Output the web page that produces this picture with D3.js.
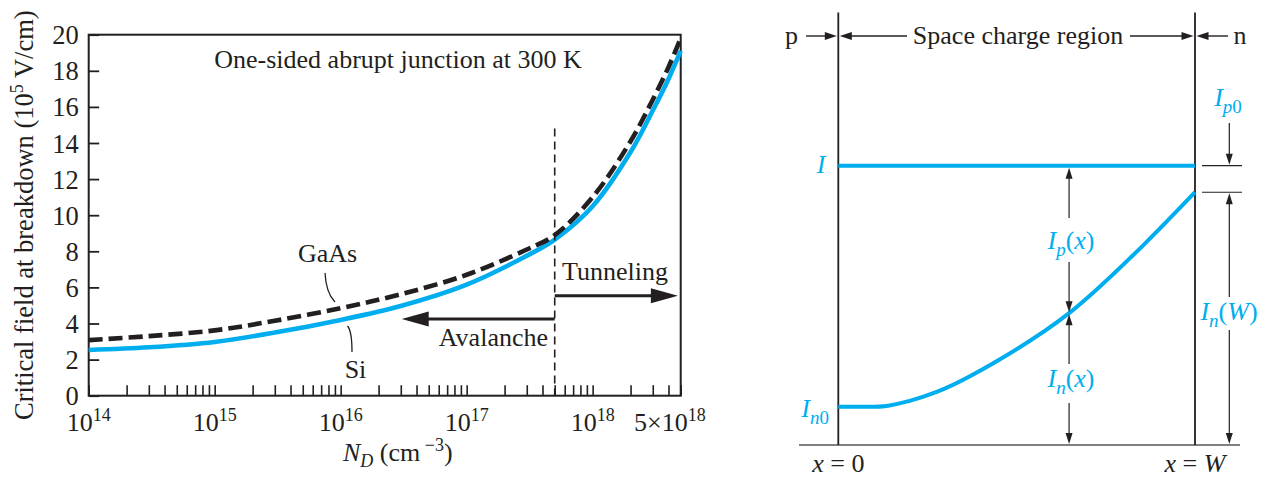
<!DOCTYPE html>
<html>
<head>
<meta charset="utf-8">
<script src="https://cdn.jsdelivr.net/npm/d3@7"></script>
<style>
  html, body { margin: 0; padding: 0; background: #fff; }
  svg { display: block; }
  text { font-family: "Liberation Serif", "Times New Roman", serif; fill: #231f20; }
</style>
</head>
<body>
<script>
// ---- Critical breakdown field vs. doping (one-sided abrupt junction, 300 K)
const dopingNd = [1e14, 3e14, 1e15, 3e15, 1e16, 3e16, 1e17, 3e17, 5e17, 1e18, 2e18, 3e18, 4e18, 5e18];
const fieldSi   = [2.53, 2.68, 2.98, 3.5, 4.2, 4.97, 6.15, 7.75, 8.65, 10.5, 13.5, 15.8, 17.55, 19.1];
const fieldGaAs = [3.08, 3.3, 3.62, 4.15, 4.85, 5.62, 6.7, 8.1, 8.9, 11.0, 14.1, 16.4, 18.2, 19.8];
const yTickValues = [0, 2, 4, 6, 8, 10, 12, 14, 16, 18, 20];
const xDecadeLabels = [[1e14, "14"], [1e15, "15"], [1e16, "16"], [1e17, "17"], [1e18, "18"]];
const tunnelingOnset = 5e17;

// ---- Current components across the space charge region (x from 0 to W)
const posX   = [0, 0.1, 0.135, 0.2, 0.276, 0.464, 0.647, 0.865, 1];
const currIn = [0.137, 0.137, 0.140, 0.158, 0.19, 0.315, 0.472, 0.728, 0.905];
const totalI = 1;
const probeX = 0.647;

const BLUE = "#00aeef", INK = "#231f20";
const FS = 26, FSS = 18;
const svg = d3.select("body").append("svg").attr("width", 1266).attr("height", 482);

function arrow(g, x1, y1, x2, y2, len, half, sw, color) {
  const dx = x2 - x1, dy = y2 - y1, L = Math.hypot(dx, dy), ux = dx / L, uy = dy / L;
  const bx = x2 - ux * len, by = y2 - uy * len;
  g.append("line").attr("x1", x1).attr("y1", y1).attr("x2", bx + ux * 1).attr("y2", by + uy * 1)
    .attr("stroke", color || INK).attr("stroke-width", sw);
  g.append("path")
    .attr("d", `M${x2},${y2}L${bx - uy * half},${by + ux * half}L${bx + uy * half},${by - ux * half}Z`)
    .attr("fill", color || INK);
}

// ================= Left panel =================
const x = d3.scaleLog().domain([1e14, 5e18]).range([88.7, 680.7]);
const y = d3.scaleLinear().domain([0, 20]).range([395.7, 34.7]);
const L = svg.append("g");

// minor + major ticks on the doping axis
const xTicks = [];
for (let d = 14; d <= 17; d++) for (let k = 1; k <= 9; k++) xTicks.push(k * Math.pow(10, d));
[1e18, 2e18, 3e18, 4e18, 5e18].forEach(v => xTicks.push(v));

const gx = L.append("g").attr("transform", `translate(0,${y(0)})`)
  .call(d3.axisBottom(x).tickValues(xTicks).tickSize(-10.5).tickFormat(""));
gx.select(".domain").remove();
gx.selectAll(".tick line").attr("stroke", INK).attr("stroke-width", 1.6);

const gy = L.append("g").attr("transform", `translate(${x(1e14)},0)`)
  .call(d3.axisLeft(y).tickValues(yTickValues).tickSize(-10.5).tickPadding(10));
gy.select(".domain").remove();
gy.selectAll(".tick line").attr("stroke", INK).attr("stroke-width", 1.8);
gy.selectAll(".tick text").attr("font-family", "Liberation Serif, serif").attr("font-size", 26.5)
  .attr("fill", INK).attr("dy", "0.34em");

// frame
L.append("rect").attr("x", x(1e14)).attr("y", y(20)).attr("width", x(5e18) - x(1e14))
  .attr("height", y(0) - y(20)).attr("fill", "none").attr("stroke", INK).attr("stroke-width", 2);

// decade labels
xDecadeLabels.forEach(([v, e]) => {
  const t = L.append("text").attr("x", x(v)).attr("y", 431).attr("text-anchor", "middle").attr("font-size", FS);
  t.append("tspan").text("10");
  t.append("tspan").attr("dy", -10).attr("font-size", FSS).text(e);
});
{
  const t = L.append("text").attr("x", x(5e18) + 25).attr("y", 431).attr("text-anchor", "end").attr("font-size", FS);
  t.append("tspan").text("5×10");
  t.append("tspan").attr("dy", -10).attr("font-size", FSS).text("18");
}

// axis titles
{
  const t = L.append("text").attr("x", 343).attr("y", 461).attr("font-size", FS);
  t.append("tspan").attr("font-style", "italic").text("N");
  t.append("tspan").attr("font-style", "italic").attr("font-size", FSS).attr("dy", 6).text("D");
  t.append("tspan").attr("dy", -6).text(" (cm");
  t.append("tspan").attr("dy", -10).attr("font-size", FSS).text(" −3");
  t.append("tspan").attr("dy", 10).text(")");
}
{
  const t = L.append("text").attr("transform", `translate(33,${(y(0) + y(20)) / 2}) rotate(-90)`)
    .attr("text-anchor", "middle").attr("font-size", 26.5);
  t.append("tspan").text("Critical field at breakdown (10");
  t.append("tspan").attr("dy", -10).attr("font-size", FSS).text("5");
  t.append("tspan").attr("dy", 10).text(" V/cm)");
}

L.append("text").attr("x", 398).attr("y", 68).attr("text-anchor", "middle").attr("font-size", FS)
  .text("One-sided abrupt junction at 300 K");

// curves
const siPts = dopingNd.map((n, i) => ({ n, v: fieldSi[i] }));
const gaPts = dopingNd.map((n, i) => ({ n, v: fieldGaAs[i] }));
const fieldLine = d3.line().x(d => x(d.n)).y(d => y(d.v)).curve(d3.curveCatmullRom.alpha(0.5));
L.append("path").attr("d", fieldLine(siPts)).attr("fill", "none").attr("stroke", BLUE).attr("stroke-width", 4.6);
L.append("path").attr("d", fieldLine(gaPts)).attr("fill", "none").attr("stroke", INK).attr("stroke-width", 4.6)
  .attr("stroke-dasharray", "14,6");

// avalanche / tunneling boundary
L.append("line").attr("x1", x(tunnelingOnset)).attr("x2", x(tunnelingOnset)).attr("y1", y(14.8)).attr("y2", y(0))
  .attr("stroke", INK).attr("stroke-width", 1.6).attr("stroke-dasharray", "8,5");
arrow(L, x(tunnelingOnset), y(5.54), x(4.75e18), y(5.54), 27, 7.5, 3);
arrow(L, x(tunnelingOnset), y(4.25), x(3.05e16), y(4.25), 27, 7.5, 3);
L.append("text").attr("x", 562).attr("y", 280).attr("font-size", FS).text("Tunneling");
L.append("text").attr("x", 548).attr("y", 346).attr("text-anchor", "end").attr("font-size", FS).text("Avalanche");

// series labels with leaders
L.append("text").attr("x", 327.5).attr("y", 262).attr("text-anchor", "middle").attr("font-size", FS).text("GaAs");
L.append("path").attr("d", "M325,273 Q326,293 335,302").attr("fill", "none").attr("stroke", INK).attr("stroke-width", 1.3);
L.append("text").attr("x", 355.5).attr("y", 378).attr("text-anchor", "middle").attr("font-size", FS).text("Si");
L.append("path").attr("d", "M347.5,326 Q352,331 352,352").attr("fill", "none").attr("stroke", INK).attr("stroke-width", 1.3);

// ================= Right panel =================
const xr = d3.scaleLinear().domain([0, 1]).range([838.3, 1195]);
const yr = d3.scaleLinear().domain([0, 1]).range([445, 165.7]);
const R = svg.append("g");

R.append("line").attr("x1", 799).attr("x2", 1240).attr("y1", yr(0)).attr("y2", yr(0)).attr("stroke", "#555").attr("stroke-width", 1.6);
[0, 1].forEach(v => R.append("line").attr("x1", xr(v)).attr("x2", xr(v)).attr("y1", 12.5).attr("y2", yr(0))
  .attr("stroke", INK).attr("stroke-width", 1.8));

// region labels across the top
R.append("text").attr("x", 791.5).attr("y", 44).attr("text-anchor", "middle").attr("font-size", FS).text("p");
R.append("text").attr("x", 1240).attr("y", 44).attr("text-anchor", "middle").attr("font-size", FS).text("n");
R.append("text").attr("x", 1018).attr("y", 44).attr("text-anchor", "middle").attr("font-size", FS).text("Space charge region");
arrow(R, 806, 36, xr(0) - 1.5, 36, 12, 4, 1.4);
arrow(R, 907, 36, xr(0) + 1.5, 36, 12, 4, 1.4);
arrow(R, 1130, 36, xr(1) - 1.5, 36, 12, 4, 1.4);
arrow(R, 1228, 36, xr(1) + 1.5, 36, 12, 4, 1.4);

// current curves
R.append("line").attr("x1", xr(0)).attr("x2", xr(1)).attr("y1", yr(totalI)).attr("y2", yr(totalI))
  .attr("stroke", BLUE).attr("stroke-width", 4);
const inPts = posX.map((p, i) => ({ p, v: currIn[i] }));
R.append("path").attr("d", d3.line().x(d => xr(d.p)).y(d => yr(d.v)).curve(d3.curveMonotoneX)(inPts))
  .attr("fill", "none").attr("stroke", BLUE).attr("stroke-width", 4);

// probe at x: Ip above the curve, In below
const inProbe = currIn[posX.indexOf(probeX)];
const px = xr(probeX);
arrow(R, px, 218, px, yr(totalI) + 2, 11, 3.5, 1.2);
arrow(R, px, 262, px, yr(inProbe) - 1, 11, 3.5, 1.2);
arrow(R, px, 364, px, yr(inProbe) + 1, 11, 3.5, 1.2);
arrow(R, px, 403, px, yr(0) - 1, 11, 3.5, 1.2);

function currentLabel(g, xx, yy, sub, tail, anchor) {
  const t = g.append("text").attr("x", xx).attr("y", yy).attr("text-anchor", anchor || "middle")
    .attr("font-size", FS).style("fill", BLUE);
  t.append("tspan").attr("font-style", "italic").text("I");
  const s = t.append("tspan").attr("dy", 7).attr("font-size", 19);
  sub.forEach(([txt, it]) => s.append("tspan").attr("font-style", it ? "italic" : "normal").text(txt));
  if (tail) {
    const r = t.append("tspan").attr("dy", -7);
    tail.forEach(([txt, it]) => r.append("tspan").attr("font-style", it ? "italic" : "normal").text(txt));
  }
  return t;
}
currentLabel(R, 1071, 249, [["p", true]], [["(", false], ["x", true], [")", false]]);
currentLabel(R, 1071, 387, [["n", true]], [["(", false], ["x", true], [")", false]]);
currentLabel(R, 1229, 320, [["n", true]], [["(", false], ["W", true], [")", false]]);
currentLabel(R, 1228, 106, [["p", true], ["0", false]]);
currentLabel(R, 829, 417, [["n", true], ["0", false]], null, "end");
R.append("text").attr("x", 821).attr("y", 173).attr("text-anchor", "middle").attr("font-size", FS)
  .attr("font-style", "italic").style("fill", BLUE).text("I");

// end-of-region markers on the right
const endIn = currIn[currIn.length - 1];
[totalI, endIn].forEach(v => R.append("line").attr("x1", 1202).attr("x2", 1242).attr("y1", yr(v)).attr("y2", yr(v))
  .attr("stroke", INK).attr("stroke-width", 1.2));
arrow(R, 1229.3, 123, 1229.3, yr(totalI) - 1, 11, 3.5, 1.2);
arrow(R, 1229.3, 297, 1229.3, yr(endIn) + 1, 11, 3.5, 1.2);
arrow(R, 1229.3, 330, 1229.3, yr(0) - 1, 11, 3.5, 1.2);

// position labels
[[0, "0"], [1, "W"]].forEach(([v, s]) => {
  const t = R.append("text").attr("x", xr(v)).attr("y", 472).attr("text-anchor", "middle").attr("font-size", FS);
  t.append("tspan").attr("font-style", "italic").text("x");
  t.append("tspan").text(" = ");
  t.append("tspan").attr("font-style", v ? "italic" : "normal").text(s);
});
</script>
</body>
</html>
